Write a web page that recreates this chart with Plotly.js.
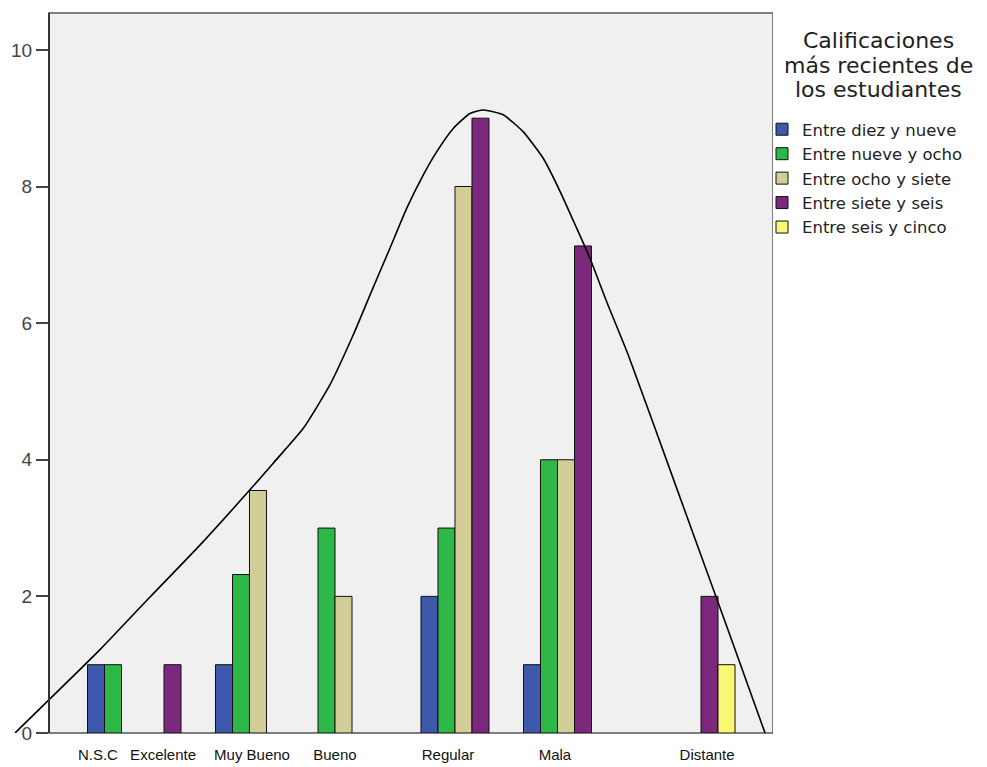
<!DOCTYPE html>
<html>
<head>
<meta charset="utf-8">
<script src="https://cdn.plot.ly/plotly-3.0.1.min.js"></script>
<style>html,body{margin:0;padding:0;background:#fff;}#chart{width:987px;height:767px;}</style>
</head>
<body>
<div id="chart"></div>
<script>
// ---------- DATA ----------
const categories = ['N.S.C', 'Excelente', 'Muy Bueno', 'Bueno', 'Regular', 'Mala', 'Distante'];
const seriesNames = ['Entre diez y nueve', 'Entre nueve y ocho', 'Entre ocho y siete', 'Entre siete y seis', 'Entre seis y cinco'];
const diezNueve = [1, null, 1, null, 2, 1, null];
const nueveOcho = [1, null, 2.32, 3, 3, 4, null];
const ochoSiete = [null, null, 3.55, 2, 8, 4, null];
const sieteSeis = [null, 1, null, null, 9, 7.13, 2];
const seisCinco = [null, null, null, null, null, null, 1];
const legendTitleLines = ['Calificaciones', 'más recientes de', 'los estudiantes'];
// freehand curve drawn over the bars (x in bar-width units from the y axis)
const curveX = [-2.0, 3.0, 5.94, 8.88, 11.82, 13.19, 14.96, 16.53, 17.90, 18.88, 20.06, 21.04, 22.02, 22.81, 23.78, 24.76, 25.55, 26.72, 27.90, 29.08, 30.06, 31.04, 31.82, 32.81, 34.08, 37.0, 39.94, 42.12];
const curveY = [0, 1.22, 1.99, 2.75, 3.56, 3.95, 4.46, 5.10, 5.83, 6.41, 7.10, 7.68, 8.17, 8.51, 8.85, 9.07, 9.12, 9.05, 8.80, 8.41, 7.93, 7.39, 6.95, 6.31, 5.53, 3.53, 1.51, 0];
const yTicks = [0, 2, 4, 6, 8, 10];

// ---------- LAYOUT / STYLE ----------
const colors = ['#3E58AC', '#2EB848', '#D3CE97', '#7C287D', '#FBF873'];
const clusterCenters = [3.265, 7.265, 11.294, 16.824, 23.882, 29.912, 39.353];
const labelCenters = [2.88, 6.71, 11.94, 16.82, 23.47, 29.76, 38.71];
const barW = 1;
const xMin = -2.176, xMax = 42.588;
const plotW = 761, plotH = 720, mL = 12, mT = 13;
const px2paperX = px => (px - mL) / plotW;
const px2paperY = py => 1 - (py - mT) / plotH;

const series = [diezNueve, nueveOcho, ochoSiete, sieteSeis, seisCinco];
const xPos = series.map(() => categories.map(() => null));
categories.forEach((c, i) => {
  const present = [];
  series.forEach((s, k) => { if (s[i] != null) present.push(k); });
  present.forEach((k, j) => {
    xPos[k][i] = clusterCenters[i] + (j - (present.length - 1) / 2) * barW;
  });
});

const traces = series.map((s, k) => ({
  type: 'bar',
  name: seriesNames[k],
  legendgroup: 'g' + k,
  x: xPos[k],
  y: s,
  width: barW,
  marker: { color: colors[k], line: { color: '#111', width: 1 } },
  hoverinfo: 'name+y'
}));
traces.push({
  type: 'scatter',
  mode: 'lines',
  x: curveX,
  y: curveY,
  line: { color: '#000', width: 1.6, shape: 'spline', smoothing: 0.5 },
  showlegend: false,
  hoverinfo: 'skip'
});

const titleYs = [41, 66, 90];
const annotations = legendTitleLines.map((t, i) => ({
  text: t,
  xref: 'paper', yref: 'paper',
  x: px2paperX(878), y: px2paperY(titleYs[i]),
  xanchor: 'center', yanchor: 'middle',
  showarrow: false,
  font: { family: 'DejaVu Sans, sans-serif', size: 22, color: '#222' }
}));

const layout = {
  width: 987,
  height: 767,
  margin: { l: mL, r: 214, t: mT, b: 34 },
  paper_bgcolor: '#ffffff',
  plot_bgcolor: '#ffffff',
  barmode: 'overlay',
  showlegend: true,
  xaxis: {
    range: [xMin, xMax],
    showgrid: false,
    zeroline: false,
    showline: false,
    tickmode: 'array',
    tickvals: labelCenters,
    ticktext: categories,
    ticks: 'outside',
    ticklen: 8,
    tickcolor: 'rgba(0,0,0,0)',
    tickfont: { family: 'Liberation Sans, Arial, sans-serif', size: 15, color: '#111' },
    fixedrange: true
  },
  yaxis: {
    range: [0, 10.54],
    anchor: 'free',
    position: 37 / plotW,
    showgrid: false,
    zeroline: false,
    showline: true,
    linecolor: '#333',
    linewidth: 2,
    tickmode: 'array',
    tickvals: yTicks,
    ticks: 'outside',
    ticklen: 12,
    tickwidth: 2,
    tickcolor: '#444',
    tickfont: { family: 'Liberation Sans, Arial, sans-serif', size: 19, color: '#444' },
    fixedrange: true
  },
  shapes: [{
    type: 'rect', layer: 'below',
    xref: 'x', yref: 'paper',
    x0: 0, x1: xMax, y0: 0, y1: 1,
    fillcolor: '#F0F0F0',
    line: { color: '#555', width: 1.5 }
  }],
  annotations: annotations,
  legend: {
    x: px2paperX(762), xanchor: 'left',
    y: px2paperY(112), yanchor: 'top',
    bgcolor: 'rgba(0,0,0,0)',
    borderwidth: 0,
    tracegroupgap: 2,
    font: { family: 'DejaVu Sans, sans-serif', size: 16.5, color: '#222' },
    traceorder: 'normal'
  }
};

Plotly.newPlot('chart', traces, layout, { displayModeBar: false, staticPlot: true });
</script>
</body>
</html>
